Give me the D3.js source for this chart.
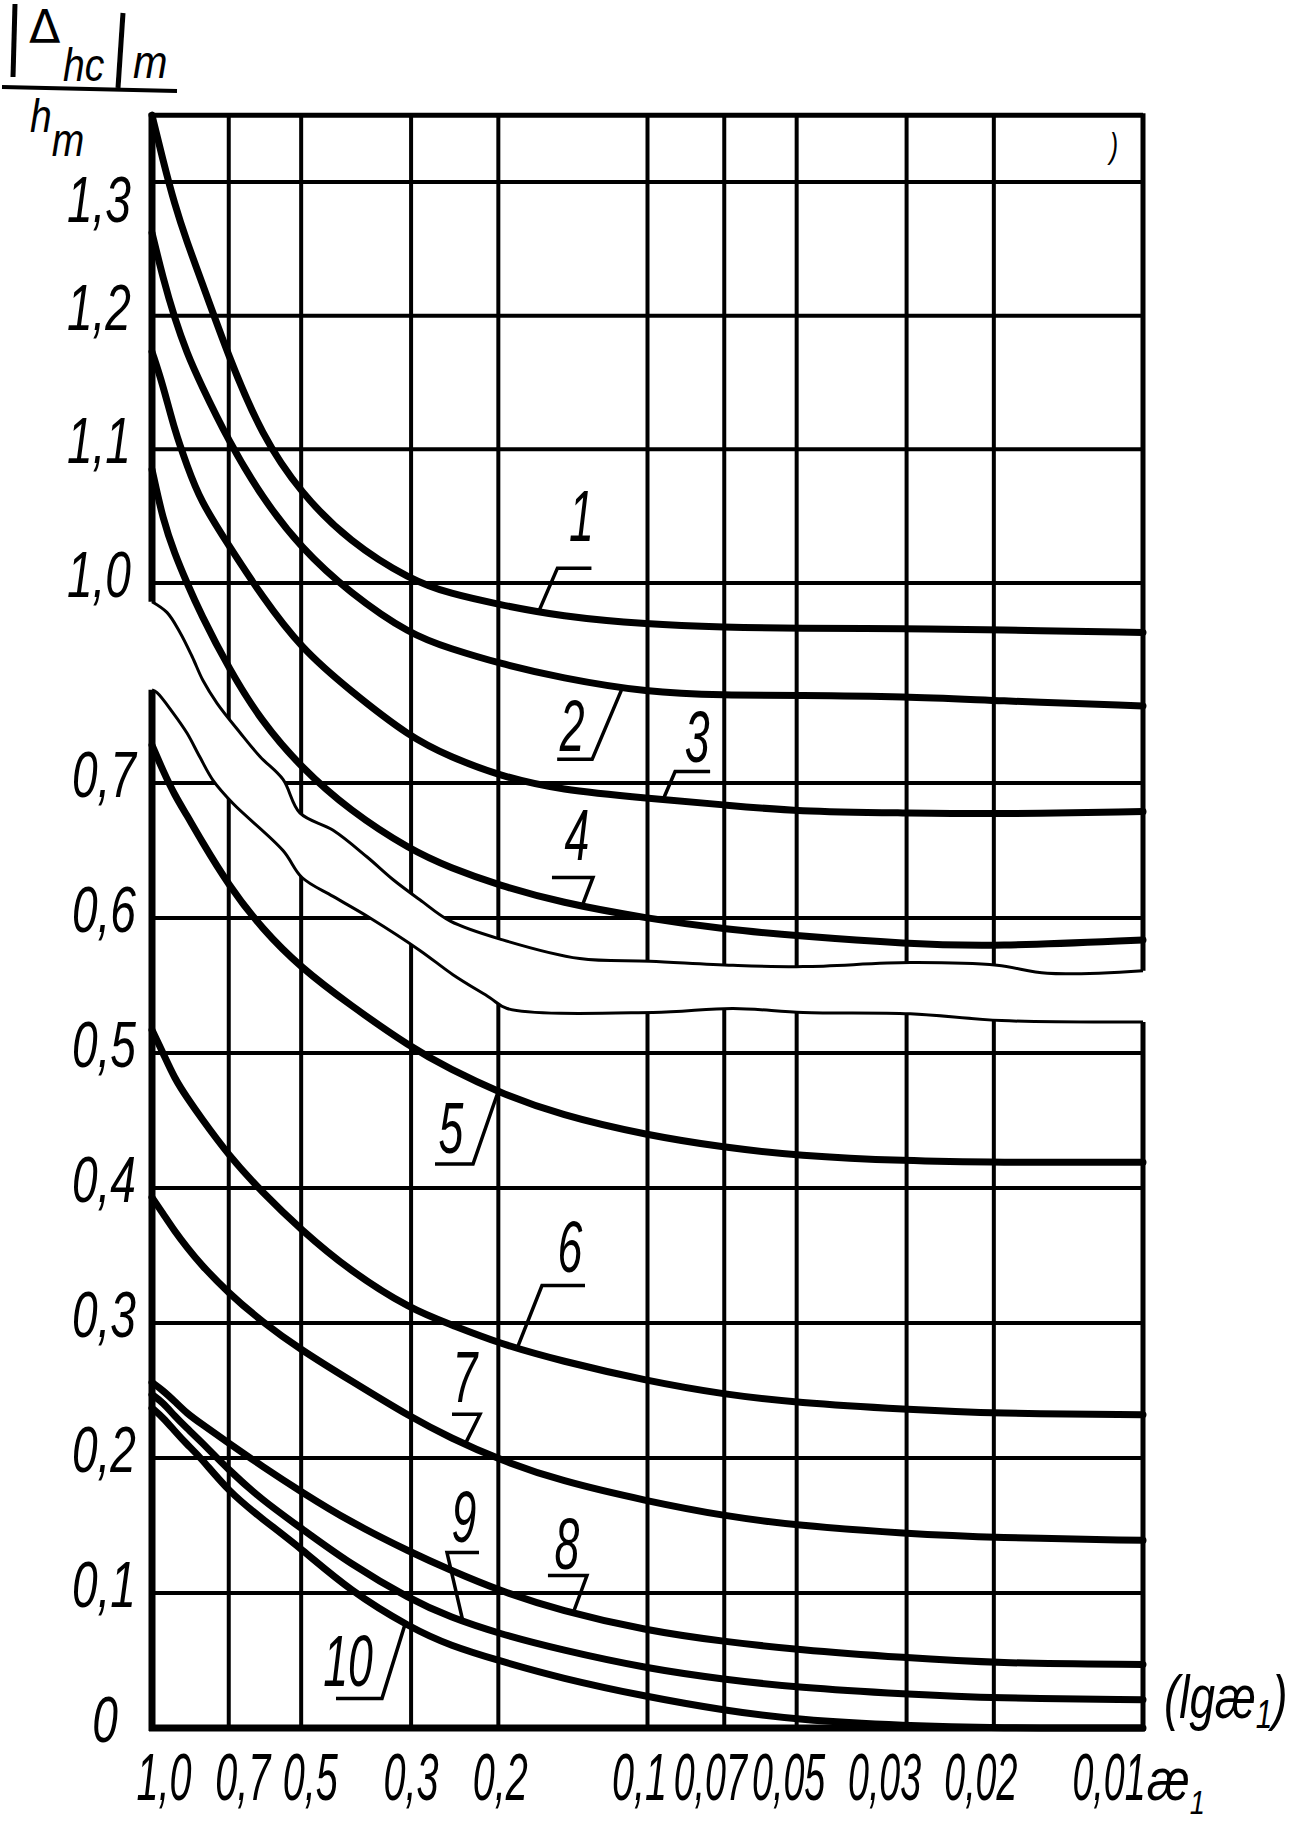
<!DOCTYPE html>
<html>
<head>
<meta charset="utf-8">
<script src="https://cdn.jsdelivr.net/npm/d3@7"></script>
<style>
  body { margin: 0; background: #fff; }
  svg text { font-family: "Liberation Sans", "DejaVu Sans", sans-serif; font-style: italic; fill: #000; }
</style>
</head>
<body>
<div id="chart"></div>
<script>
// x axis: ae1, log scale running from 1.0 (left) to 0.01 (right)
var xTicks = [1.0, 0.7, 0.5, 0.3, 0.2, 0.1, 0.07, 0.05, 0.03, 0.02, 0.01];
var xTickLabels = ["1,0", "0,7", "0,5", "0,3", "0,2", "0,1", "0,07", "0,05", "0,03", "0,02", "0,01"];
var xLabelNudge = [12, 14, 9, 0, 2, -8, -14, -8, -22, -13, -34];

// y axis has a break: lower part 0..0.7, upper part 1.0..1.35
var yTicksLow = [0, 0.1, 0.2, 0.3, 0.4, 0.5, 0.6, 0.7];
var yLabelsLow = ["0", "0,1", "0,2", "0,3", "0,4", "0,5", "0,6", "0,7"];
var yTicksHigh = [1.0, 1.1, 1.2, 1.3];
var yLabelsHigh = ["1,0", "1,1", "1,2", "1,3"];
var yTop = 1.35;

// sample points along ae1 where the curves were read
var ae = [1.0, 0.95, 0.9, 0.85, 0.8, 0.7, 0.6, 0.5, 0.4, 0.3, 0.25, 0.2, 0.15, 0.1, 0.07, 0.05, 0.03, 0.02, 0.01];

// curves 1-4 are read on the upper scale
var curve1 = [1.350, 1.316, 1.283, 1.255, 1.229, 1.169, 1.110, 1.067, 1.031, 1.002, 0.992, 0.984, 0.975, 0.969, 0.967, 0.966, 0.966, 0.965, 0.963];
var curve2 = [1.262, 1.228, 1.198, 1.172, 1.150, 1.106, 1.064, 1.026, 0.993, 0.961, 0.951, 0.940, 0.929, 0.918, 0.916, 0.916, 0.915, 0.912, 0.908];
var curve3 = [1.173, 1.148, 1.114, 1.088, 1.062, 1.028, 0.990, 0.951, 0.920, 0.884, 0.870, 0.856, 0.845, 0.839, 0.834, 0.829, 0.828, 0.827, 0.829];
var curve4 = [1.085, 1.047, 1.022, 1.000, 0.978, 0.936, 0.896, 0.862, 0.830, 0.800, 0.787, 0.774, 0.761, 0.749, 0.741, 0.736, 0.730, 0.728, 0.733];
// curves 5-10 on the lower scale
var curve5 = [0.728, 0.709, 0.691, 0.676, 0.659, 0.624, 0.592, 0.563, 0.536, 0.504, 0.488, 0.471, 0.454, 0.439, 0.430, 0.424, 0.420, 0.419, 0.419];
var curve6 = [0.517, 0.500, 0.481, 0.467, 0.453, 0.424, 0.397, 0.369, 0.339, 0.310, 0.299, 0.285, 0.272, 0.257, 0.247, 0.241, 0.236, 0.233, 0.232];
var curve7 = [0.393, 0.381, 0.368, 0.356, 0.344, 0.322, 0.301, 0.280, 0.258, 0.230, 0.215, 0.199, 0.183, 0.168, 0.157, 0.150, 0.144, 0.141, 0.139];
var curve8 = [0.256, 0.250, 0.242, 0.233, 0.226, 0.211, 0.194, 0.175, 0.153, 0.130, 0.117, 0.102, 0.087, 0.072, 0.064, 0.058, 0.052, 0.048, 0.047];
var curve9 = [0.247, 0.241, 0.231, 0.222, 0.213, 0.191, 0.169, 0.148, 0.122, 0.095, 0.082, 0.070, 0.058, 0.044, 0.036, 0.030, 0.025, 0.022, 0.021];
var curve10 = [0.237, 0.230, 0.220, 0.210, 0.201, 0.175, 0.155, 0.133, 0.102, 0.074, 0.061, 0.050, 0.037, 0.023, 0.013, 0.006, 0.0015, 0, 0];

// torn edges of the axis break
var breakTopAe = [1.0, 0.933, 0.878, 0.830, 0.789, 0.739, 0.664, 0.605, 0.544, 0.503, 0.431, 0.368, 0.326, 0.288, 0.250, 0.196, 0.137, 0.0989, 0.0672, 0.0485, 0.0295, 0.0197, 0.0156, 0.01];
var breakTopV = [0.986, 0.978, 0.963, 0.945, 0.927, 0.910, 0.888, 0.870, 0.853, 0.828, 0.815, 0.795, 0.778, 0.763, 0.747, 0.733, 0.719, 0.717, 0.714, 0.713, 0.716, 0.714, 0.708, 0.710];
var breakBotAe = [1.0, 0.977, 0.907, 0.850, 0.800, 0.753, 0.687, 0.544, 0.498, 0.431, 0.363, 0.288, 0.247, 0.208, 0.192, 0.0975, 0.0672, 0.0485, 0.0295, 0.0193, 0.01];
var breakBotV = [0.769, 0.767, 0.752, 0.737, 0.719, 0.702, 0.685, 0.650, 0.630, 0.616, 0.600, 0.576, 0.558, 0.541, 0.533, 0.530, 0.533, 0.530, 0.529, 0.524, 0.523];

// curve labels: where the leader touches the curve (ae1), then elbow / end / text offsets in px
var labels = [
  {name: "1", curve: curve1, scale: "hi", at: 0.166, elbow: [19, -44], end: [53, -44], text: [43, -71]},
  {name: "2", curve: curve2, scale: "hi", at: 0.1125, elbow: [-30, 71], end: [-65, 71], text: [-50, 63]},
  {name: "3", curve: curve3, scale: "hi", at: 0.093, elbow: [12, -28], end: [47, -28], text: [34, -38]},
  {name: "4", curve: curve4, scale: "hi", at: 0.1356, elbow: [11, -29], end: [-30, -29], text: [-5, -46]},
  {name: "5", curve: curve5, scale: "lo", at: 0.2003, elbow: [-25, 72], end: [-63, 72], text: [-47, 61]},
  {name: "6", curve: curve6, scale: "lo", at: 0.1834, elbow: [25, -63], end: [68, -63], text: [53, -77]},
  {name: "7", curve: curve7, scale: "lo", at: 0.2335, elbow: [15, -30], end: [-13, -30], text: [0, -42]},
  {name: "8", curve: curve8, scale: "lo", at: 0.1414, elbow: [14, -38], end: [-25, -38], text: [-6, -44]},
  {name: "9", curve: curve9, scale: "lo", at: 0.2357, elbow: [-16, -69], end: [16, -69], text: [1, -80]},
  {name: "10", curve: curve10, scale: "lo", at: 0.3086, elbow: [-23, 74], end: [-69, 74], text: [-57, 62]}
];

var width = 1299, height = 1822;

var x = d3.scaleLog().domain([1, 0.01]).range([152, 1143]);
var yLo = d3.scaleLinear().domain([0, 0.7]).range([1728, 783]);
var yHi = d3.scaleLinear().domain([1.0, 1.3]).range([583, 182]);

var svg = d3.select("#chart").append("svg")
    .attr("width", width)
    .attr("height", height);

var x0 = x(1), x1 = x(0.01), yb = yLo(0), yt = yHi(yTop);

// grid
var grid = svg.append("g").attr("stroke", "#000").attr("fill", "none");
grid.selectAll("line.v")
  .data(xTicks.slice(1, -1))
  .enter().append("line")
    .attr("x1", function(d) { return x(d); })
    .attr("x2", function(d) { return x(d); })
    .attr("y1", yt).attr("y2", yb)
    .attr("stroke-width", 4);

var hLines = yTicksLow.slice(1).map(function(d) { return yLo(d); })
  .concat(yTicksHigh.map(function(d) { return yHi(d); }));
grid.selectAll("line.h")
  .data(hLines)
  .enter().append("line")
    .attr("x1", x0).attr("x2", x1)
    .attr("y1", function(d) { return d; })
    .attr("y2", function(d) { return d; })
    .attr("stroke-width", 4);

// frame
grid.append("line").attr("x1", x0).attr("x2", x0).attr("y1", yt - 2).attr("y2", yb + 3).attr("stroke-width", 7);
grid.append("line").attr("x1", x1).attr("x2", x1).attr("y1", yt - 2).attr("y2", yb + 3).attr("stroke-width", 5);
grid.append("line").attr("x1", x0).attr("x2", x1).attr("y1", yt).attr("y2", yt).attr("stroke-width", 5);
grid.append("line").attr("x1", x0 - 3).attr("x2", x1 + 2).attr("y1", yb).attr("y2", yb).attr("stroke-width", 7);

// break band
var topPts = breakTopAe.map(function(d, i) { return [x(d), yHi(breakTopV[i])]; });
var botPts = breakBotAe.map(function(d, i) { return [x(d), yLo(breakBotV[i])]; });
var band = [[topPts[0][0] - 14, topPts[0][1]]].concat(topPts)
  .concat([[topPts[topPts.length - 1][0] + 14, topPts[topPts.length - 1][1]],
           [botPts[botPts.length - 1][0] + 14, botPts[botPts.length - 1][1]]])
  .concat(botPts.slice().reverse())
  .concat([[botPts[0][0] - 14, botPts[0][1]]]);
svg.append("path")
  .attr("d", "M" + band.join("L") + "Z")
  .attr("fill", "#fff");

var edge = d3.line().curve(d3.curveCatmullRom);
svg.append("path").attr("d", edge(topPts)).attr("fill", "none").attr("stroke", "#000").attr("stroke-width", 3);
svg.append("path").attr("d", edge(botPts)).attr("fill", "none").attr("stroke", "#000").attr("stroke-width", 3);

// curves
var hiCurves = [curve1, curve2, curve3, curve4];
var loCurves = [curve5, curve6, curve7, curve8, curve9, curve10];
var lineHi = d3.line().x(function(d, i) { return x(ae[i]); }).y(function(d) { return yHi(d); }).curve(d3.curveBasis);
var lineLo = d3.line().x(function(d, i) { return x(ae[i]); }).y(function(d) { return yLo(d); }).curve(d3.curveBasis);

svg.append("g").selectAll("path")
  .data(hiCurves).enter().append("path")
    .attr("d", lineHi)
    .attr("fill", "none").attr("stroke", "#000").attr("stroke-width", 7).attr("stroke-linecap", "round");
svg.append("g").selectAll("path")
  .data(loCurves).enter().append("path")
    .attr("d", lineLo)
    .attr("fill", "none").attr("stroke", "#000").attr("stroke-width", 7).attr("stroke-linecap", "round");

function valueAt(curve, a) {
  var lx = Math.log10(a);
  for (var i = 0; i < ae.length - 1; i++) {
    var l0 = Math.log10(ae[i]), l1 = Math.log10(ae[i + 1]);
    if (lx <= l0 && lx >= l1) {
      var t = (lx - l0) / (l1 - l0);
      return curve[i] + t * (curve[i + 1] - curve[i]);
    }
  }
  return curve[curve.length - 1];
}

function txt(g, px, py, s, size, sx, anchor) {
  return g.append("text")
    .attr("transform", "translate(" + px + "," + py + ") scale(" + sx + ",1)")
    .attr("text-anchor", anchor || "middle")
    .attr("font-size", size)
    .text(s);
}

// curve labels with leaders
var lab = svg.append("g");
labels.forEach(function(l) {
  var px = x(l.at);
  var py = (l.scale === "hi" ? yHi : yLo)(valueAt(l.curve, l.at));
  var pts = [[px, py], [px + l.elbow[0], py + l.elbow[1]], [px + l.end[0], py + l.end[1]]];
  lab.append("path").attr("d", "M" + pts.join("L"))
    .attr("fill", "none").attr("stroke", "#000").attr("stroke-width", 3.5);
  txt(lab, px + l.text[0], py + l.text[1], l.name, 72, 0.62);
});

// y tick labels
var ax = svg.append("g");
yTicksLow.forEach(function(d, i) {
  txt(ax, d === 0 ? 118 : 136, yLo(d) + 14, yLabelsLow[i], 64, 0.72, "end");
});
yTicksHigh.forEach(function(d, i) {
  txt(ax, 131, yHi(d) + (d === 1.3 ? 40 : 14), yLabelsHigh[i], 64, 0.72, "end");
});

// x tick labels (the four-character ones are set a little tighter)
xTicks.forEach(function(d, i) {
  var s = xTickLabels[i];
  txt(ax, x(d) + xLabelNudge[i], yb + 72, s, 66, s.length > 3 ? 0.57 : 0.6);
});
// variable name right after the last tick
var ae1 = ax.append("text").attr("transform", "translate(1147," + (yb + 72) + ") scale(0.8,1)").attr("font-size", 60);
ae1.append("tspan").text("æ");
ae1.append("tspan").attr("font-size", 34).attr("dy", 14).text("1");

var lg = ax.append("text").attr("transform", "translate(1164," + (yb - 10) + ") scale(0.74,1)").attr("font-size", 62);
lg.append("tspan").text("(lgæ");
lg.append("tspan").attr("font-size", 40).attr("dy", 10).text("1");
lg.append("tspan").attr("dy", -10).text(")");

// y axis title |Δhc|m / hm
var t = svg.append("g");
t.append("line").attr("x1", 15).attr("x2", 13).attr("y1", 4).attr("y2", 77).attr("stroke", "#000").attr("stroke-width", 5);
t.append("line").attr("x1", 123).attr("x2", 118).attr("y1", 13).attr("y2", 88).attr("stroke", "#000").attr("stroke-width", 5);
t.append("line").attr("x1", 2).attr("x2", 177).attr("y1", 87).attr("y2", 91).attr("stroke", "#000").attr("stroke-width", 4);
t.append("text").attr("transform", "translate(29,43)")
  .attr("font-size", 46).style("font-family", "DejaVu Sans").style("font-style", "normal").text("Δ");
t.append("text").attr("transform", "translate(63,81) scale(0.85,1)").attr("font-size", 46).text("hc");
t.append("text").attr("transform", "translate(133,78) scale(0.9,1)").attr("font-size", 46).text("m");
var den = t.append("text").attr("transform", "translate(30,132) scale(0.85,1)").attr("font-size", 46);
den.append("tspan").text("h");
den.append("tspan").attr("dy", 24).text("m");

// small pen mark in top right cell
txt(svg, 1114, 158, ")", 36, 0.7);
</script>
</body>
</html>
